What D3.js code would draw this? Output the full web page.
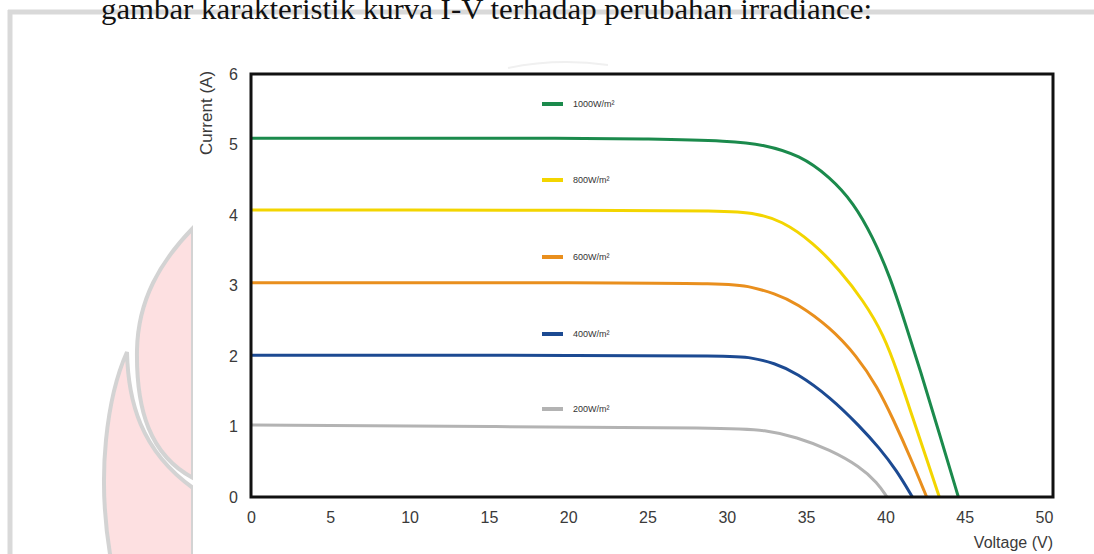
<!DOCTYPE html>
<html>
<head>
<meta charset="utf-8">
<script src="https://cdn.jsdelivr.net/npm/d3@7"></script>
<style>
  body { margin: 0; background: #fff; }
  svg { display: block; }
</style>
</head>
<body>
<svg id="chart"></svg>
<script>
// I-V curves of a PV module for several irradiance levels
const irradiance = ["1000W/m²", "800W/m²", "600W/m²", "400W/m²", "200W/m²"];
const colors = ["#1b8a4c", "#f3d500", "#e98f1d", "#1c4a92", "#b3b3b3"];

// [voltage, current]
const curve1000 = [[0,5.09],[10,5.09],[20,5.09],[25,5.08],[30.3,5.05],[32.3,5.0],[34.6,4.85],[36.5,4.54],[38.0,4.17],[39.2,3.69],[40.3,3.12],[41.2,2.5],[42.2,1.8],[43.4,0.9],[44.6,0]];
const curve800 = [[0,4.07],[10,4.07],[20,4.07],[30.3,4.06],[31.8,4.02],[33.4,3.93],[35.5,3.6],[37.1,3.22],[38.6,2.79],[39.9,2.3],[40.8,1.75],[41.7,1.14],[42.6,0.54],[43.4,0]];
const curve600 = [[0,3.04],[10,3.04],[20,3.04],[30.3,3.03],[31.5,2.98],[33.0,2.89],[34.4,2.75],[36.5,2.41],[38.2,2.0],[39.5,1.56],[40.5,1.1],[41.6,0.55],[42.6,0]];
const curve400 = [[0,2.01],[10,2.01],[20,2.01],[30.3,2.0],[31.5,1.98],[33.0,1.9],[34.4,1.76],[36.5,1.42],[38.4,1.0],[39.6,0.7],[40.7,0.38],[41.7,0]];
const curve200 = [[0,1.02],[15,1.0],[30.3,0.98],[32.4,0.95],[34.4,0.85],[36.5,0.67],[38.4,0.43],[39.5,0.2],[40.1,0]];
const curves = [curve1000, curve800, curve600, curve400, curve200];

const xTicks = [0, 5, 10, 15, 20, 25, 30, 35, 40, 45, 50];
const yTicks = [0, 1, 2, 3, 4, 5, 6];

const width = 1094;
const height = 554;

const svg = d3.select("#chart")
    .attr("width", width)
    .attr("height", height);

// page border of the scanned document
svg.append("line")
    .attr("x1", 8).attr("x2", width).attr("y1", 12).attr("y2", 12)
    .attr("stroke", "#d9d9d9").attr("stroke-width", 5);
svg.append("line")
    .attr("x1", 10).attr("x2", 10).attr("y1", 10).attr("y2", height)
    .attr("stroke", "#d9d9d9").attr("stroke-width", 5);

// heading text, cut by the top of the picture
svg.append("text")
    .attr("x", 101).attr("y", 19)
    .attr("font-family", "Liberation Serif, Times New Roman, serif")
    .attr("font-size", 30)
    .attr("textLength", 771)
    .attr("lengthAdjust", "spacingAndGlyphs")
    .attr("fill", "#111")
    .text("gambar karakteristik kurva I-V terhadap perubahan irradiance:");

// watermark logo (only its left part shows)
const wm = svg.append("g");
wm.append("path")
    .attr("d", "M193,228 C160,262 138,300 137,350 C136,410 150,455 193,478 L193,228 Z")
    .attr("fill", "#fde0e1").attr("stroke", "#d3d3d3").attr("stroke-width", 4);
wm.append("path")
    .attr("d", "M127,352 C128,400 140,450 193,488 L193,560 L111,560 C104,520 102,480 106,440 C110,400 118,372 127,352 Z")
    .attr("fill", "#fde0e1").attr("stroke", "#d3d3d3").attr("stroke-width", 4);

// the pasted chart image is opaque white
svg.append("rect")
    .attr("x", 193).attr("y", 58)
    .attr("width", width - 193).attr("height", height - 58)
    .attr("fill", "#fff");
svg.append("path")
    .attr("d", "M508,68 Q557,58 608,65")
    .attr("fill", "none").attr("stroke", "#f0f0f0").attr("stroke-width", 2);

const box = { left: 251, right: 1053, top: 74, bottom: 497 };

const xScale = d3.scaleLinear()
    .domain([0, 50])
    .range([box.left, 1044]);
const yScale = d3.scaleLinear()
    .domain([0, 6])
    .range([box.bottom, box.top]);

// tick labels only, no tick marks
const xAxis = svg.append("g")
    .attr("transform", `translate(0, ${box.bottom})`)
    .call(d3.axisBottom(xScale).tickValues(xTicks).tickFormat(d3.format("d")).tickSize(0).tickPadding(15));
const yAxis = svg.append("g")
    .attr("transform", `translate(${box.left}, 0)`)
    .call(d3.axisLeft(yScale).tickValues(yTicks).tickFormat(d3.format("d")).tickSize(0).tickPadding(13));
[xAxis, yAxis].forEach(function(ax) {
    ax.select(".domain").remove();
    ax.selectAll("text")
        .attr("font-family", "Liberation Sans, Arial, sans-serif")
        .attr("font-size", 16)
        .attr("fill", "#3a3a3a");
});

svg.append("text")
    .attr("transform", `translate(212, 113) rotate(-90)`)
    .attr("text-anchor", "middle")
    .attr("font-family", "Liberation Sans, Arial, sans-serif")
    .attr("font-size", 17)
    .attr("fill", "#3a3a3a")
    .text("Current (A)");
svg.append("text")
    .attr("x", box.right).attr("y", 548)
    .attr("text-anchor", "end")
    .attr("font-family", "Liberation Sans, Arial, sans-serif")
    .attr("font-size", 16)
    .attr("fill", "#3a3a3a")
    .text("Voltage (V)");

// curves, smoothed like the original plot
const line = d3.line()
    .x(d => xScale(d[0]))
    .y(d => yScale(d[1]))
    .curve(d3.curveBasis);

svg.selectAll(".iv")
    .data(curves)
    .enter().append("path")
    .attr("class", "iv")
    .attr("fill", "none")
    .attr("stroke", (d, i) => colors[i])
    .attr("stroke-width", 3)
    .attr("d", line);

// frame
svg.append("rect")
    .attr("x", box.left).attr("y", box.top)
    .attr("width", box.right - box.left).attr("height", box.bottom - box.top)
    .attr("fill", "none")
    .attr("stroke", "#111")
    .attr("stroke-width", 3);

// legend, one entry above each curve
const legendY = [104, 180, 257, 334, 409];
const legend = svg.selectAll(".legend")
    .data(irradiance)
    .enter().append("g")
    .attr("class", "legend")
    .attr("transform", (d, i) => `translate(542, ${legendY[i]})`);
legend.append("line")
    .attr("x1", 0).attr("x2", 21)
    .attr("stroke", (d, i) => colors[i])
    .attr("stroke-width", 4);
legend.append("text")
    .attr("x", 31).attr("y", 3)
    .attr("font-family", "Liberation Sans, Arial, sans-serif")
    .attr("font-size", 9)
    .attr("fill", "#333")
    .text(d => d);
</script>
</body>
</html>
